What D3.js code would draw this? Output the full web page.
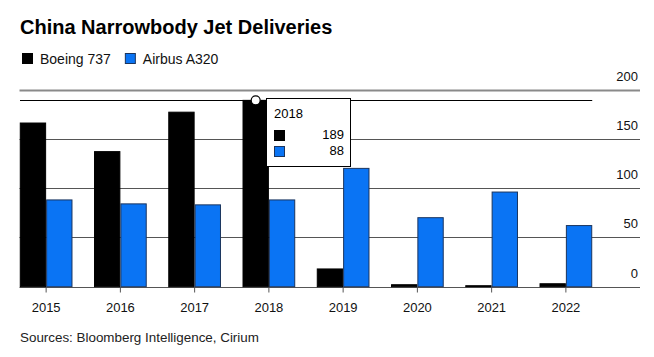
<!DOCTYPE html>
<html>
<head>
<meta charset="utf-8">
<script src="https://cdn.jsdelivr.net/npm/d3@7"></script>
<style>
  html, body { margin: 0; padding: 0; background: #fff; }
  svg { display: block; font-family: "Liberation Sans", Arial, Helvetica, sans-serif; }
</style>
</head>
<body>
<svg id="chart" width="654" height="357"></svg>
<script>
const years = ["2015", "2016", "2017", "2018", "2019", "2020", "2021", "2022"];
const seriesNames = ["Boeing 737", "Airbus A320"];
const boeing737 = [166, 137, 177, 189, 18, 2, 1, 3];
const airbusA320 = [88, 84, 83, 88, 120, 70, 96, 62];
const yTicks = [0, 50, 100, 150, 200];
const highlightYear = "2018";
const titleText = "China Narrowbody Jet Deliveries";
const sourceText = "Sources: Bloomberg Intelligence, Cirium";

const colors = { "Boeing 737": "#000000", "Airbus A320": "#0a74f4" };
const strokes = { "Boeing 737": "#000000", "Airbus A320": "#1b355e" };

const svg = d3.select("#chart");

const rows = years.map((yr, i) => ({ year: yr, values: [
  { key: seriesNames[0], value: boeing737[i] },
  { key: seriesNames[1], value: airbusA320[i] }
]}));

const x0 = d3.scaleBand().domain(years).range([9, 603]).paddingInner(0.29).paddingOuter(0.145);
const x1 = d3.scaleBand().domain(seriesNames).range([0, x0.bandwidth()]);
const y = d3.scaleLinear().domain([0, 200]).range([286.7, 89.5]);

// Title
svg.append("text").attr("x", 20).attr("y", 34).attr("font-size", 20).attr("font-weight", "bold")
  .attr("fill", "#000").text(titleText);

// Legend
let lx = 22;
seriesNames.forEach((s, i) => {
  const g = svg.append("g");
  g.append("rect").attr("x", lx + 0.5).attr("y", 53.5).attr("width", 10).attr("height", 10)
    .attr("fill", colors[s]).attr("stroke", strokes[s]).attr("stroke-width", 1);
  const t = g.append("text").attr("x", lx + 18).attr("y", 64).attr("font-size", 14).attr("fill", "#111").text(s);
  lx = lx + 18 + t.node().getComputedTextLength() + 14;
});

// Gridlines
const grid = svg.append("g");
yTicks.forEach(v => {
  const top = v === 200;
  grid.append("line").attr("x1", 19.5).attr("x2", 640)
    .attr("y1", Math.round(y(v)) + 0.5).attr("y2", Math.round(y(v)) + 0.5)
    .attr("stroke", top ? "#8a8a8a" : "#555").attr("stroke-width", top ? 2 : 1);
  grid.append("text").attr("x", 638).attr("y", y(v) - 9).attr("text-anchor", "end")
    .attr("font-size", 13).attr("fill", "#111").text(v);
});

// Bars
const groups = svg.append("g").selectAll("g").data(rows).join("g")
  .attr("transform", d => `translate(${x0(d.year)},0)`);
groups.selectAll("rect").data(d => d.values).join("rect")
  .attr("x", d => x1(d.key) + 0.5)
  .attr("width", x1.bandwidth() - 1)
  .attr("y", d => y(d.value))
  .attr("height", d => y(0) - y(d.value))
  .attr("fill", d => colors[d.key])
  .attr("stroke", d => strokes[d.key])
  .attr("stroke-width", 1);

// X axis
const xAxis = d3.axisBottom(x0).tickSize(5).tickPadding(8);
const ax = svg.append("g").attr("transform", `translate(0,${Math.round(y(0)) + 0.5})`).call(xAxis);
ax.select(".domain").remove();
ax.selectAll(".tick line").attr("stroke", "#555");
ax.selectAll(".tick text").attr("font-size", 13).attr("fill", "#111")
  .attr("font-family", "Liberation Sans, Arial, sans-serif").attr("dy", "0.9em");

// Hover crosshair
const hi = years.indexOf(highlightYear);
const hx = x0(highlightYear) + x1(seriesNames[0]) + x1.bandwidth() / 2;
const hy = y(boeing737[hi]);
svg.append("line").attr("x1", 20).attr("x2", x0(years[years.length - 1]) + x0.bandwidth())
  .attr("y1", Math.round(hy) + 0.5).attr("y2", Math.round(hy) + 0.5)
  .attr("stroke", "#000").attr("stroke-width", 1);

// Tooltip
const tt = svg.append("g");
tt.append("rect").attr("x", 266.5).attr("y", 98.5).attr("width", 84).attr("height", 68)
  .attr("fill", "#fff").attr("stroke", "#000").attr("stroke-width", 1);
tt.append("text").attr("x", 274).attr("y", 118).attr("font-size", 13).attr("fill", "#000").text(highlightYear);
const ttVals = [boeing737[hi], airbusA320[hi]];
seriesNames.forEach((s, i) => {
  tt.append("rect").attr("x", 274.5).attr("y", 130.5 + i * 16).attr("width", 10).attr("height", 10)
    .attr("fill", colors[s]).attr("stroke", strokes[s]);
  tt.append("text").attr("x", 344).attr("y", 139 + i * 16).attr("text-anchor", "end")
    .attr("font-size", 13).attr("fill", "#000").text(ttVals[i]);
});

svg.append("circle").attr("cx", hx).attr("cy", hy).attr("r", 4.5)
  .attr("fill", "#fff").attr("stroke", "#000").attr("stroke-width", 1.2);

// Source
svg.append("text").attr("x", 20).attr("y", 342).attr("font-size", 13.4).attr("fill", "#222").text(sourceText);
</script>
</body>
</html>
